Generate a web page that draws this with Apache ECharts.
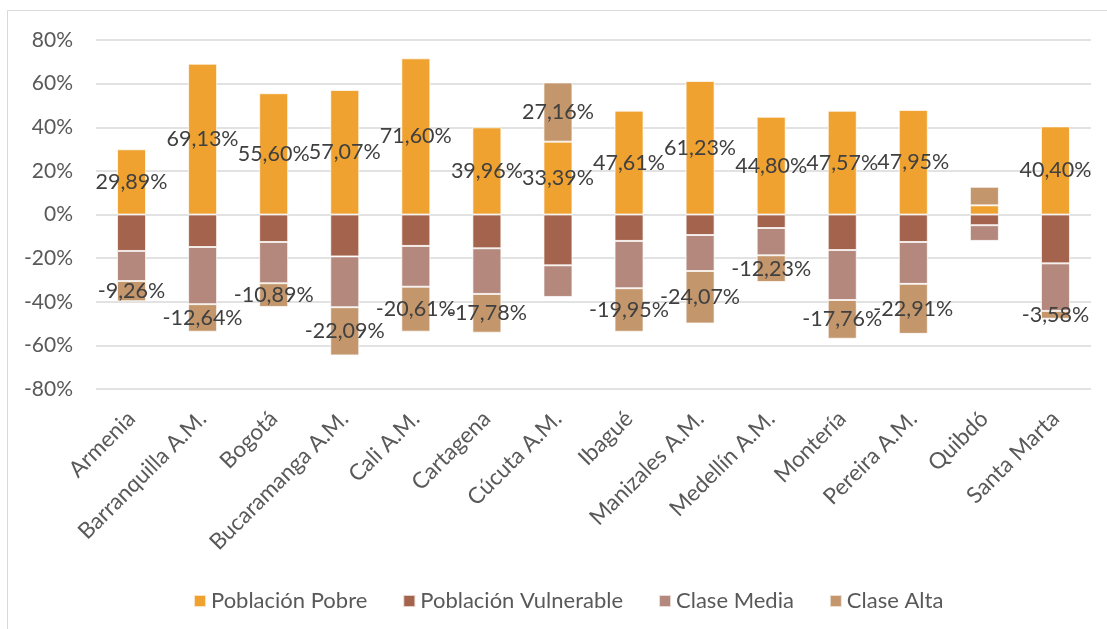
<!DOCTYPE html>
<html>
<head>
<meta charset="utf-8">
<script src="https://cdn.jsdelivr.net/npm/echarts@6/dist/echarts.min.js"></script>
<style>
html,body{margin:0;padding:0;background:#fff;}
#chart{width:1107px;height:629px;}
</style>
</head>
<body>
<div id="chart"></div>
<script>
const categories = ['Armenia','Barranquilla A.M.','Bogotá','Bucaramanga A.M.','Cali A.M.','Cartagena','Cúcuta A.M.','Ibagué','Manizales A.M.','Medellín A.M.','Montería','Pereira A.M.','Quibdó','Santa Marta'];
const pobre      = [29.89, 69.13, 55.60, 57.07, 71.60, 39.96, 33.39, 47.61, 61.23, 44.80, 47.57, 47.95, 4.2, 40.40];
const vulnerable = [-16.7, -14.9, -12.6, -19.2, -14.4, -15.5, -23.3, -12.1, -9.4, -6.2, -16.3, -12.6, -4.9, -22.4];
const media      = [-13.8, -26.2, -18.9, -23.3, -18.7, -20.9, -14.5, -21.7, -16.5, -12.5, -22.9, -19.2, -7.2, -21.8];
const alta       = [-9.26, -12.64, -10.89, -22.09, -20.61, -17.78, 27.16, -19.95, -24.07, -12.23, -17.76, -22.91, 8.5, -3.58];
const seriesNames = ['Población Pobre','Población Vulnerable','Clase Media','Clase Alta'];
const labelledSeries = ['Población Pobre','Clase Alta'];
const unlabelledCategories = ['Quibdó'];
const yTicks = {min: -80, max: 80, interval: 20};

const FONT = 'Lato, "Liberation Sans", sans-serif';
const colors = ['#EFA22F','#A4634C','#B4887C','#C3966B'];
const values = [pobre, vulnerable, media, alta];

function fmt(v){ return v.toFixed(2).replace('.', ',') + '%'; }

const series = seriesNames.map((name, si) => ({
  name: name,
  type: 'bar',
  stack: 'total',
  barWidth: 29,
  itemStyle: {color: colors[si], borderColor: 'rgba(255,255,255,0.7)', borderWidth: 1},
  data: values[si].map((v, ci) => ({
    value: v,
    label: {show: labelledSeries.includes(name) && !unlabelledCategories.includes(categories[ci])}
  })),
  label: {
    position: 'inside',
    color: '#404040',
    fontFamily: FONT,
    fontSize: 21.5,
    formatter: p => fmt(p.value)
  }
}));

const chart = echarts.init(document.getElementById('chart'), null, {renderer: 'canvas'});
chart.setOption({
  animation: false,
  backgroundColor: '#fff',
  textStyle: {fontFamily: FONT},
  graphic: [{
    type: 'rect', silent: true, z: -10,
    shape: {x: 7.5, y: 10.5, width: 1200, height: 700},
    style: {fill: 'none', stroke: '#d9d9d9', lineWidth: 1}
  }],
  grid: {left: 96, right: 16, top: 40, bottom: 240, containLabel: false},
  legend: {
    data: seriesNames,
    left: 188, top: 585,
    itemWidth: 12, itemHeight: 12, itemGap: 35,
    icon: 'rect',
    textStyle: {color: '#595959', fontSize: 22, fontFamily: FONT}
  },
  xAxis: {
    type: 'category',
    data: categories,
    axisLine: {show: false, onZero: false},
    axisTick: {show: false},
    axisLabel: {rotate: 45, color: '#595959', fontSize: 22.5, fontFamily: FONT, margin: 26, interval: 0}
  },
  yAxis: {
    type: 'value',
    min: yTicks.min, max: yTicks.max, interval: yTicks.interval,
    axisLine: {show: false},
    axisTick: {show: false},
    splitLine: {lineStyle: {color: '#d9d9d9', width: 1.5}},
    axisLabel: {color: '#595959', fontSize: 21, fontFamily: FONT, margin: 23, formatter: '{value}%'}
  },
  series: series
});
</script>
</body>
</html>
